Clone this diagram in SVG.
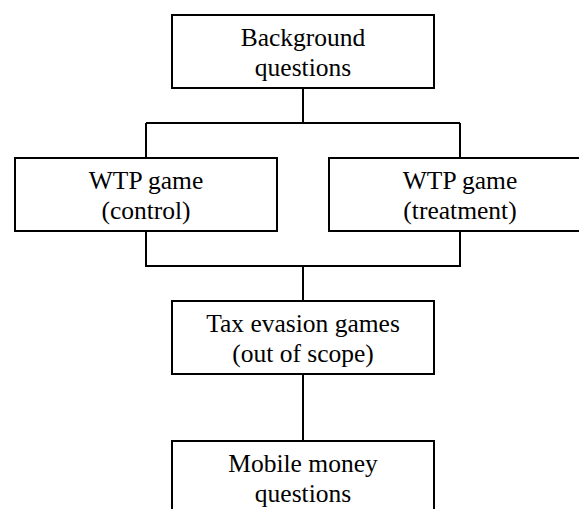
<svg xmlns="http://www.w3.org/2000/svg" width="579" height="509" viewBox="0 0 579 509">
<style>
.box{fill:#fff;stroke:#000;stroke-width:2}
.conn{fill:none;stroke:#000;stroke-width:2}
</style>
<rect width="579" height="509" fill="#fff"/>
<g id="connectors">
<path class="conn" d="M303 88V123M146 123H460M146 123V158M460 123V158"/>
<path class="conn" d="M146 232V266H460V232M303 266V301"/>
<path class="conn" d="M303 374V441"/>
<path d="M290 301H303" stroke="#4472c4" stroke-width="2" fill="none"/>
</g>
<g font-family="'Liberation Serif', serif" font-size="25.5" text-anchor="middle" fill="#000">
<g id="background">
<rect class="box" x="172" y="15" width="262" height="73"/>
<text x="303" y="45.7">Background</text>
<text x="303" y="76">questions</text>
</g>
<g id="wtp-control">
<rect class="box" x="15" y="158" width="262" height="73"/>
<text x="146" y="189">WTP game</text>
<text x="146" y="219">(control)</text>
</g>
<g id="wtp-treatment">
<rect class="box" x="329" y="158" width="262" height="73"/>
<text x="460" y="189">WTP game</text>
<text x="460" y="219">(treatment)</text>
</g>
<g id="tax-evasion">
<rect class="box" x="172" y="301" width="262" height="73"/>
<text x="303" y="332">Tax evasion games</text>
<text x="303" y="362">(out of scope)</text>
</g>
<g id="mobile-money">
<rect class="box" x="172" y="441" width="262" height="73"/>
<text x="303" y="472">Mobile money</text>
<text x="303" y="502">questions</text>
</g>
</g>
</svg>
